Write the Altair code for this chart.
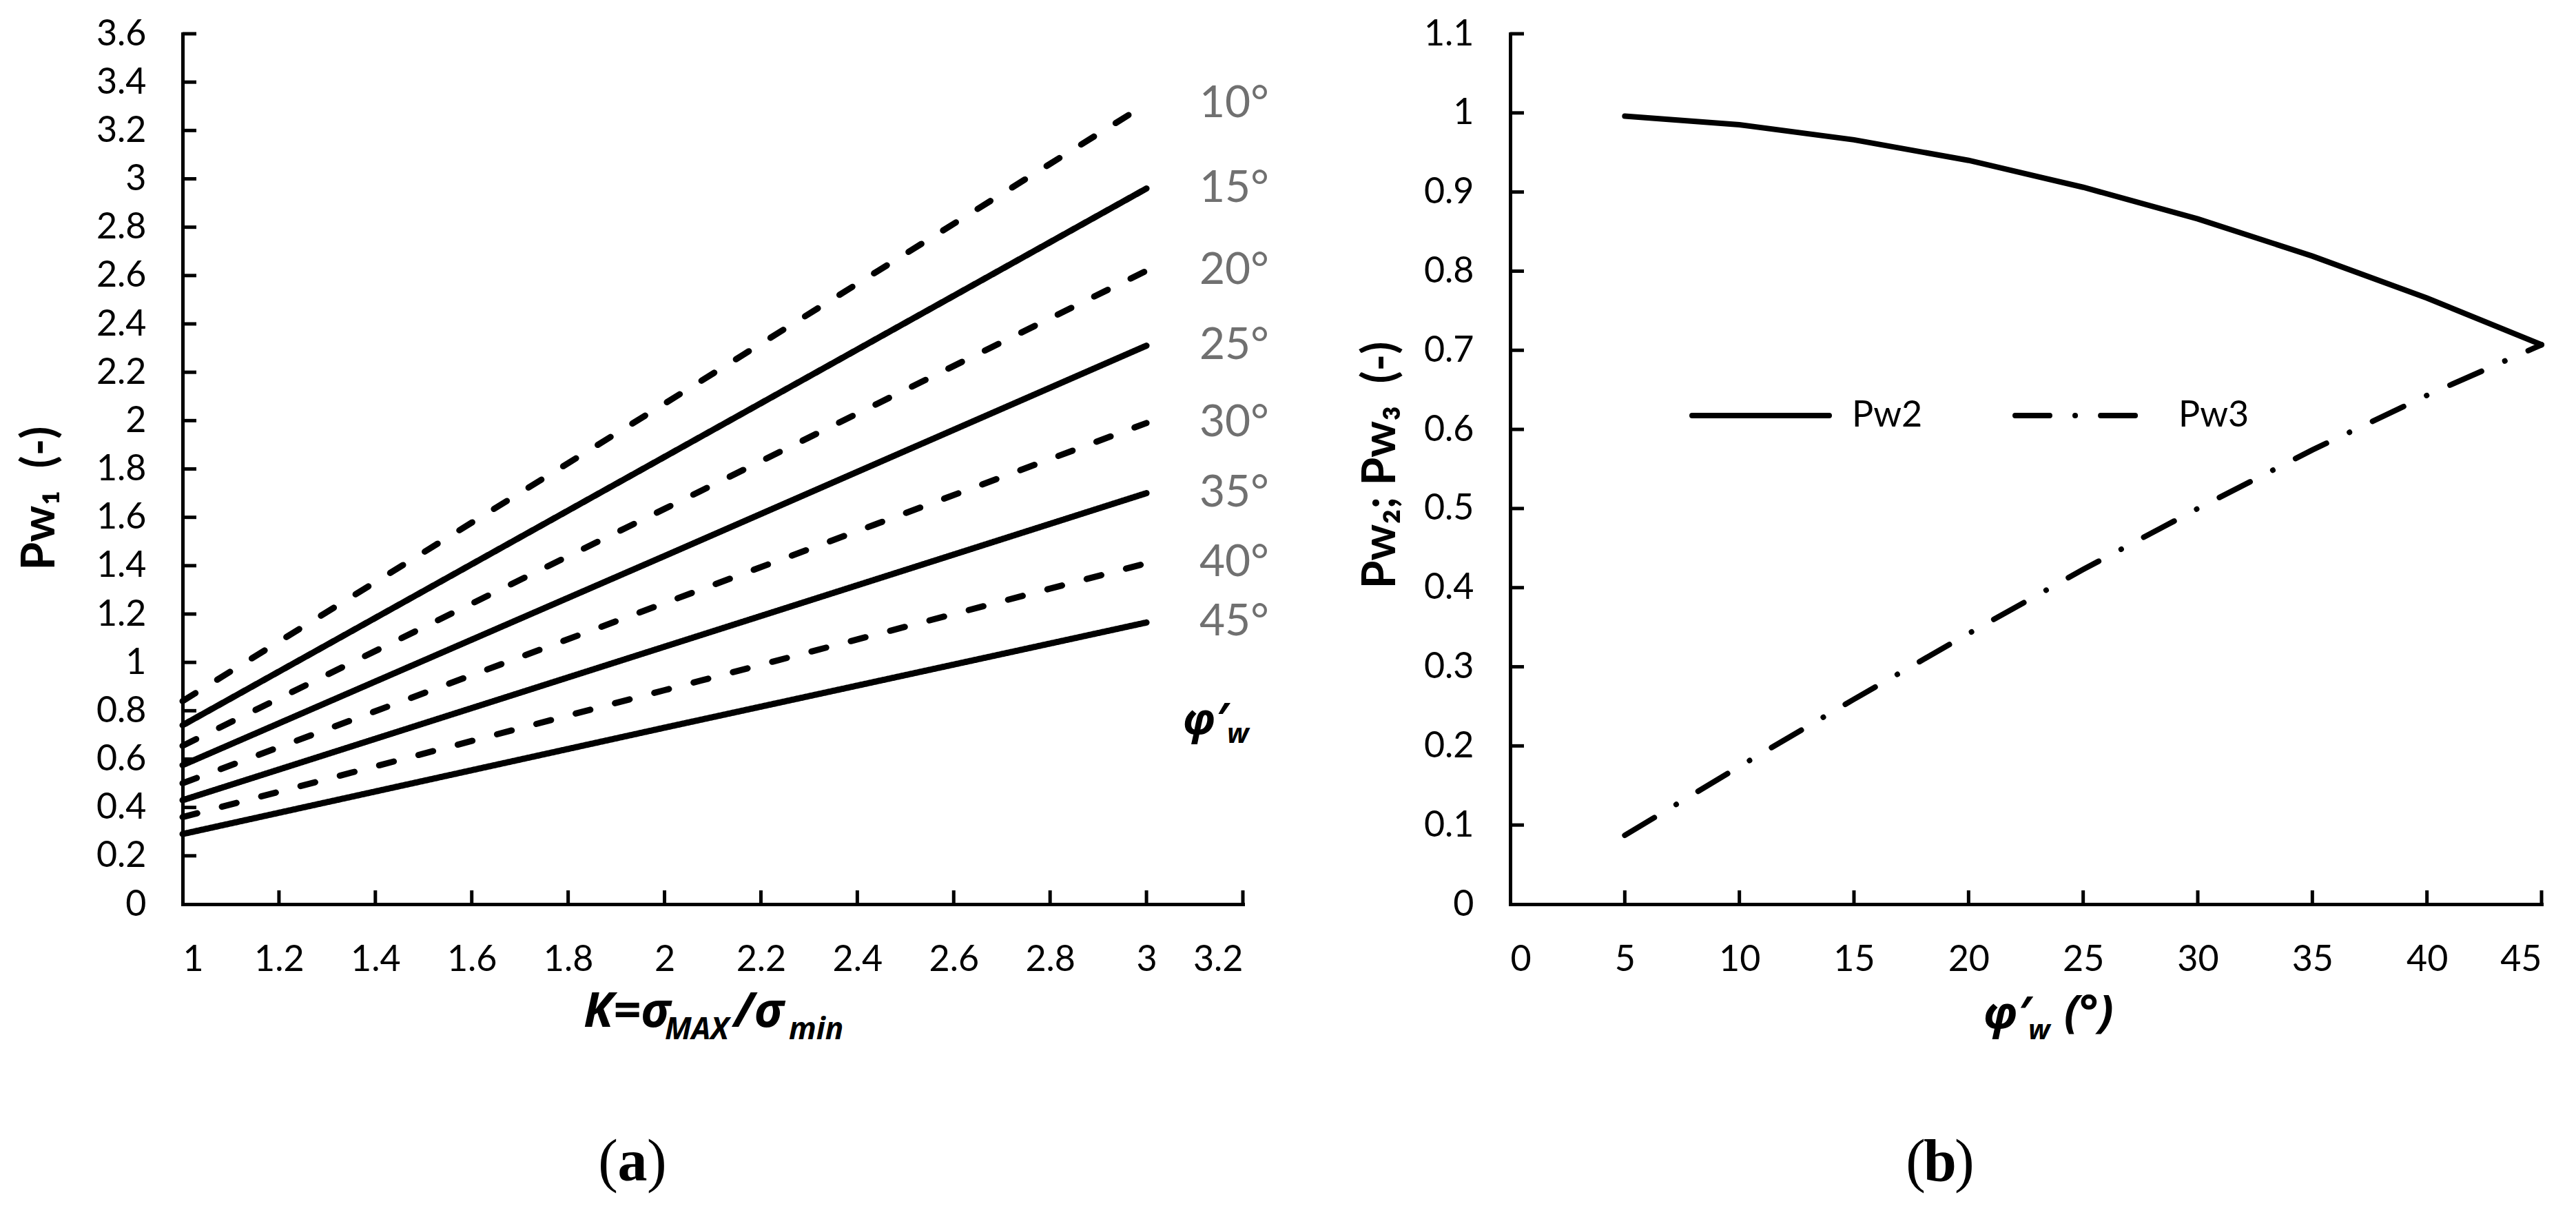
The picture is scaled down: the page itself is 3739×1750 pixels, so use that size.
import altair as alt
import pandas as pd

# ---------------- data: panel (a) ----------------
K_VALUES = [1, 2, 3]
PHI_A = [10, 15, 20, 25, 30, 35, 40, 45]
PHI_LABELS = ["10°", "15°", "20°", "25°", "30°", "35°", "40°", "45°"]
LINE_STYLE_A = ["dashed", "solid", "dashed", "solid", "dashed", "solid", "dashed", "solid"]
PW1_K1 = [0.84, 0.74, 0.655, 0.575, 0.50, 0.43, 0.36, 0.29]
PW1_K2 = [2.07, 1.85, 1.635, 1.44, 1.245, 1.065, 0.885, 0.73]
PW1_K3 = [3.31, 2.96, 2.62, 2.31, 1.99, 1.70, 1.41, 1.165]
XT_A = [1, 1.2, 1.4, 1.6, 1.8, 2, 2.2, 2.4, 2.6, 2.8, 3, 3.2]
YT_A = [0, 0.2, 0.4, 0.6, 0.8, 1, 1.2, 1.4, 1.6, 1.8, 2, 2.2, 2.4, 2.6, 2.8, 3, 3.2, 3.4, 3.6]

# ---------------- data: panel (b) ----------------
PHI_B = [5, 10, 15, 20, 25, 30, 35, 40, 45]
PW2 = [0.996, 0.985, 0.966, 0.940, 0.906, 0.866, 0.819, 0.766, 0.707]
PW3 = [0.087, 0.174, 0.259, 0.342, 0.423, 0.500, 0.574, 0.643, 0.707]
XT_B = [0, 5, 10, 15, 20, 25, 30, 35, 40, 45]
YT_B = [0, 0.1, 0.2, 0.3, 0.4, 0.5, 0.6, 0.7, 0.8, 0.9, 1, 1.1]

# ---------------- tables ----------------
rows_a = []
for i, phi in enumerate(PHI_A):
    for k, v in zip(K_VALUES, [PW1_K1[i], PW1_K2[i], PW1_K3[i]]):
        rows_a.append({"phi": phi, "K": k, "Pw1": v, "style": LINE_STYLE_A[i]})
df_a = pd.DataFrame(rows_a)
df_b2 = pd.DataFrame({"phi": PHI_B, "val": PW2})
df_b3 = pd.DataFrame({"phi": PHI_B, "val": PW3})

W_A, W_B, H = 1539, 1497, 1263
TICK_LEN = 20
DASH_A = [22, 37]
DASHDOT = [50, 37, 0.1, 37]

xa = alt.Scale(domain=[1, 3.2], nice=False, zero=False)
ya = alt.Scale(domain=[0, 3.6], nice=False)
xb = alt.Scale(domain=[0, 45], nice=False)
yb = alt.Scale(domain=[0, 1.1], nice=False)


def ax(vals):
    return alt.Axis(values=vals, format="~g", title=None, domain=True, labels=True, ticks=False, grid=False)


AXA_X, AXA_Y, AXB_X, AXB_Y = ax(XT_A), ax(YT_A), ax(XT_B), ax(YT_B)


def txt(s, x, y, size, font="Lato", weight="normal", style="normal", align="left",
        baseline="alphabetic", angle=0, color="black"):
    return alt.Chart(pd.DataFrame({"t": [s]})).mark_text(
        font=font, fontSize=size, fontWeight=weight, fontStyle=style, align=align,
        baseline=baseline, angle=angle, color=color
    ).encode(x=alt.value(x), y=alt.value(y), text="t:N")


def ticks(vals, xs, ys, axx, axy, horizontal):
    d = pd.DataFrame({"v": vals})
    m = alt.Chart(d).mark_rule(color="black", strokeWidth=5)
    if horizontal:
        return m.encode(x=alt.X("v:Q", scale=xs, axis=axx), y=alt.value(H), y2=alt.value(H - TICK_LEN))
    return m.encode(y=alt.Y("v:Q", scale=ys, axis=axy), x=alt.value(0), x2=alt.value(TICK_LEN))


# ---------------- panel (a) ----------------
def lines_a(style, dash):
    return alt.Chart(df_a).transform_filter(alt.datum.style == style).mark_line(
        color="black", strokeWidth=9, strokeCap="round", strokeDash=dash
    ).encode(
        x=alt.X("K:Q", scale=xa, axis=AXA_X),
        y=alt.Y("Pw1:Q", scale=ya, axis=AXA_Y),
        detail="phi:N",
    )


labels_a = alt.Chart(pd.DataFrame({"lab": PHI_LABELS, "y": PW1_K3})).mark_text(
    align="left", baseline="middle", font="Lato", fontSize=64, color="#707070"
).encode(x=alt.value(1476), y=alt.Y("y:Q", scale=ya, axis=AXA_Y), text="lab:N")

NB = "\u00a0"
panel_a = alt.layer(
    lines_a("solid", [1, 0]),
    lines_a("dashed", DASH_A),
    ticks(XT_A[1:], xa, ya, AXA_X, AXA_Y, True),
    ticks(YT_A[1:], xa, ya, AXA_X, AXA_Y, False),
    labels_a,
    txt("φ′", 1452, 1016, 62, font="Open Sans", weight="bold", style="italic"),
    txt("w", 1516, 1029, 40, font="Open Sans", weight="bold", style="italic"),
    txt("Pw₁" + NB + NB + "(-)", -206, 674, 66, weight="bold", align="center", baseline="middle", angle=270),
    txt("K=σ", 582, 1441, 70, font="Open Sans", weight="bold", style="italic"),
    txt("MAX", 700, 1459, 44, font="Open Sans", weight="bold", style="italic"),
    txt("/σ", 800, 1441, 70, font="Open Sans", weight="bold", style="italic"),
    txt("min", 880, 1459, 44, font="Open Sans", weight="bold", style="italic"),
    txt("(", 632, 1664, 86, font="Liberation Serif", align="right"),
    txt("a", 653, 1664, 86, font="Liberation Serif", weight="bold", align="center"),
    txt(")", 674, 1664, 86, font="Liberation Serif", align="left"),
).properties(width=W_A, height=H)

# ---------------- panel (b) ----------------
line_pw2 = alt.Chart(df_b2).mark_line(color="black", strokeWidth=8, strokeCap="round").encode(
    x=alt.X("phi:Q", scale=xb, axis=AXB_X), y=alt.Y("val:Q", scale=yb, axis=AXB_Y))
line_pw3 = alt.Chart(df_b3).mark_line(color="black", strokeWidth=8, strokeCap="round", strokeDash=DASHDOT).encode(
    x=alt.X("phi:Q", scale=xb, axis=AXB_X), y=alt.Y("val:Q", scale=yb, axis=AXB_Y))

one = pd.DataFrame({"a": [0]})
leg_solid = alt.Chart(one).mark_rule(color="black", strokeWidth=8, strokeCap="round").encode(
    x=alt.value(264), x2=alt.value(463), y=alt.value(554))
leg_dd = alt.Chart(one).mark_rule(color="black", strokeWidth=8, strokeCap="round", strokeDash=DASHDOT).encode(
    x=alt.value(733), x2=alt.value(920), y=alt.value(554))

panel_b = alt.layer(
    line_pw2, line_pw3,
    ticks(XT_B[1:], xb, yb, AXB_X, AXB_Y, True),
    ticks(YT_B[1:], xb, yb, AXB_X, AXB_Y, False),
    leg_solid, leg_dd,
    txt("Pw2", 496, 554, 52, baseline="middle"),
    txt("Pw3", 970, 554, 52, baseline="middle"),
    txt("Pw₂;" + NB + "Pw₃" + NB + NB + "(-)", -187, 626, 66, weight="bold", align="center", baseline="middle", angle=270),
    txt("φ′", 687, 1443, 65, font="Open Sans", weight="bold", style="italic"),
    txt("w", 752, 1459, 40, font="Open Sans", weight="bold", style="italic"),
    txt("(°)", 804, 1441, 65, font="Open Sans", weight="bold", style="italic"),
    txt("(", 603, 1664, 86, font="Liberation Serif", align="right"),
    txt("b", 624, 1664, 86, font="Liberation Serif", weight="bold", align="center"),
    txt(")", 645, 1664, 86, font="Liberation Serif", align="left"),
).properties(width=W_B, height=H)

chart = alt.hconcat(panel_a, panel_b, spacing=130).properties(
    padding={"left": 18, "top": 15, "right": 0, "bottom": 12}
).configure_view(stroke=None).configure_axis(
    domainColor="black", domainWidth=5, domainCap="square", grid=False,
    labelFont="Lato", labelFontSize=52, labelColor="black", labelOverlap=False,
).configure_axisX(labelPadding=55).configure_axisY(labelPadding=53)

chart.save("out.html", embed_options={"renderer": "svg", "actions": False})
